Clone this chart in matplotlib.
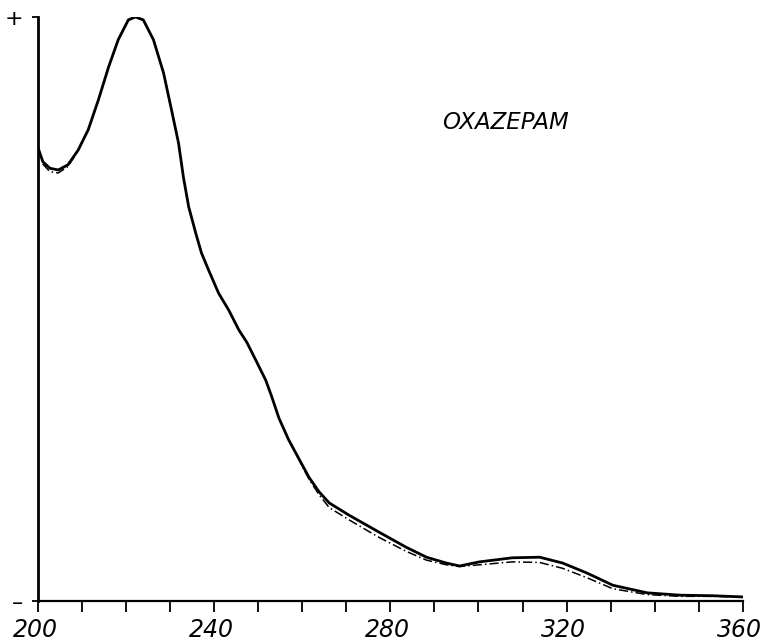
import numpy as np
import matplotlib.pyplot as plt
import matplotlib.transforms as mtransforms

# wavelength (nm) and relative absorbance
wl = [200, 201.1, 202.7, 204.6, 206.8, 209.1, 211.4, 213.7, 216.0, 218.2,
      220.5, 222.1, 223.9, 226.2, 228.5, 230.3, 231.9, 233.0, 234.2, 235.8,
      237.1, 238.7, 241.0, 243.3, 245.6, 247.4, 249.4, 251.7, 253.1, 254.7,
      256.9, 261.5, 263.8, 266.1, 270.6, 277.4, 283.6, 288.2, 292.7, 295.7,
      300.2, 307.7, 313.9, 319.1, 324.6, 330.5, 338.3, 345.8, 353.3, 360]

ab_solid = [0.776, 0.752, 0.741, 0.738, 0.747, 0.772, 0.807, 0.858, 0.914, 0.961,
            0.995, 1.000, 0.995, 0.961, 0.904, 0.841, 0.784, 0.726, 0.675, 0.630,
            0.596, 0.567, 0.527, 0.498, 0.464, 0.443, 0.413, 0.378, 0.349, 0.313,
            0.276, 0.212, 0.187, 0.168, 0.147, 0.118, 0.092, 0.075, 0.065, 0.060,
            0.067, 0.074, 0.075, 0.065, 0.048, 0.027, 0.014, 0.010, 0.009, 0.007]

ab_dash = [0.776, 0.748, 0.735, 0.733, 0.744, 0.771, 0.807, 0.858, 0.914, 0.961,
           0.995, 1.000, 0.995, 0.961, 0.904, 0.841, 0.784, 0.726, 0.675, 0.630,
           0.596, 0.567, 0.527, 0.498, 0.464, 0.443, 0.413, 0.378, 0.349, 0.313,
           0.276, 0.209, 0.182, 0.160, 0.139, 0.109, 0.085, 0.070, 0.062, 0.059,
           0.062, 0.067, 0.066, 0.056, 0.040, 0.021, 0.011, 0.008, 0.008, 0.007]

xticks = np.arange(200, 361, 10)
xlabels = [str(t) if t % 40 == 0 else '' for t in xticks]

fig = plt.figure(figsize=(7.61, 6.43), dpi=100)
ax = fig.add_axes([0.050, 0.0653, 0.926, 0.9083])

ax.plot(wl, ab_dash, color='black', lw=1.1, ls=(0, (6, 2, 1, 2)))
ax.plot(wl, ab_solid, color='black', lw=2.0, solid_joinstyle='round')

ax.set_xlim(200, 360)
ax.set_ylim(0, 1.0)

for s in ['top', 'right']:
    ax.spines[s].set_visible(False)
ax.spines['left'].set_linewidth(2.0)
ax.spines['bottom'].set_linewidth(1.6)

ax.set_xticks(xticks)
ax.set_xticklabels(xlabels, fontsize=17, style='italic',
                   family=['Liberation Sans Narrow', 'DejaVu Sans'])
ax.tick_params(axis='x', direction='out', length=8, width=1.3, pad=4)
shift = mtransforms.ScaledTranslation(-3 / 100, 0, fig.dpi_scale_trans)
for lab in ax.get_xticklabels():
    lab.set_transform(lab.get_transform() + shift)

ax.set_yticks([0, 1])
ax.set_yticklabels(['–', '+'], fontsize=16)
ax.tick_params(axis='y', direction='out', length=4.5, width=1.3, pad=6)

ax.text(291.8, 0.82, 'OXAZEPAM', fontsize=16.5, style='italic',
        ha='left', va='center')

fig.savefig('out.png', dpi=100)
